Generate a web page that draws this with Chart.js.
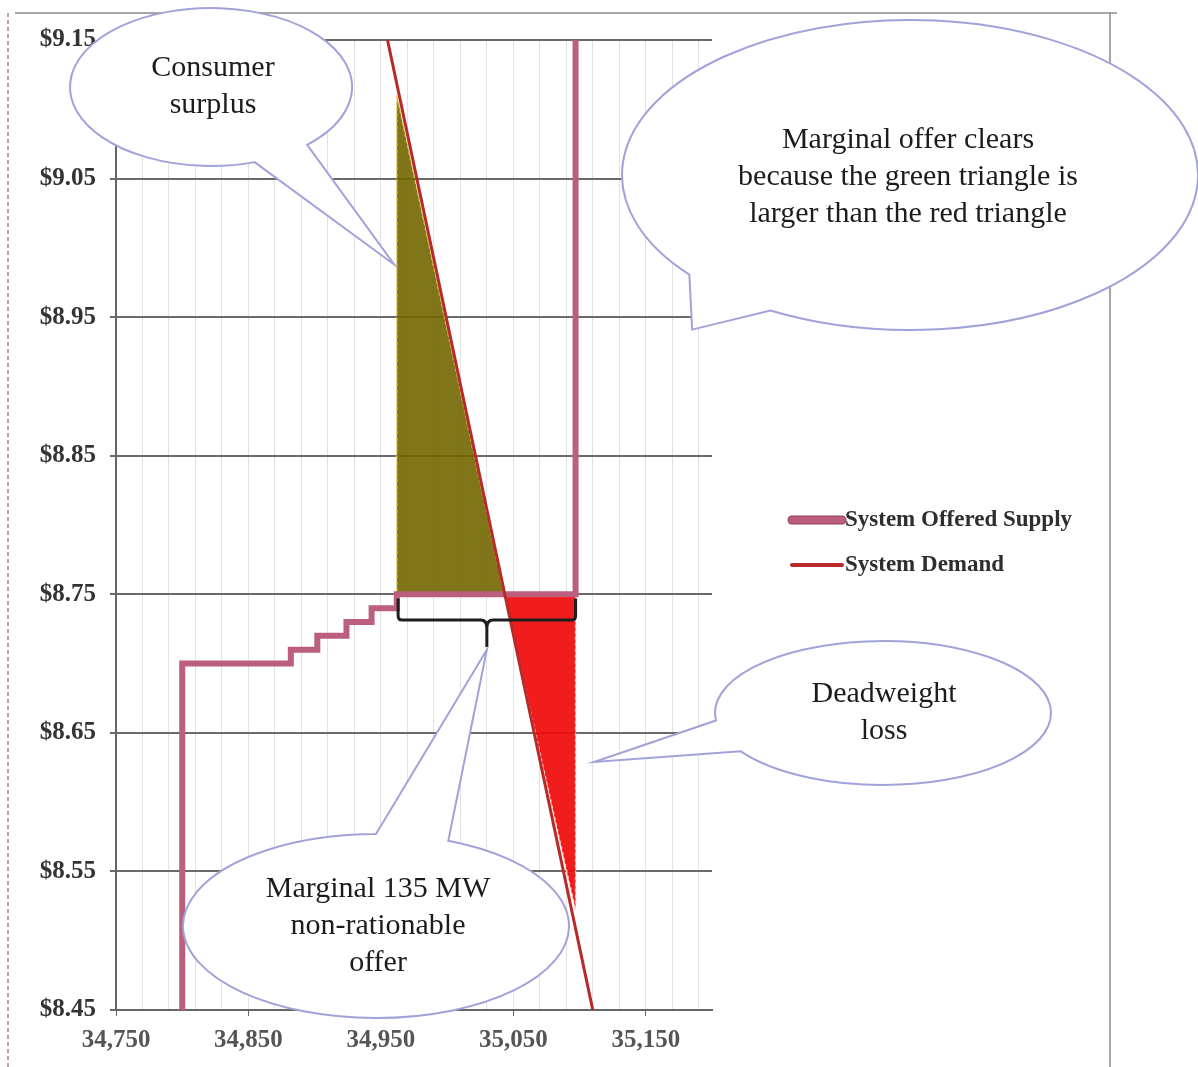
<!DOCTYPE html>
<html>
<head>
<meta charset="utf-8">
<script src="https://cdn.jsdelivr.net/npm/chart.js@4.4.1/dist/chart.umd.min.js"></script>
<style>
  html, body { margin: 0; padding: 0; background: #fff; }
</style>
</head>
<body>
<canvas id="chart" width="1198" height="1067"></canvas>
<script>
// offer stack, MW vs $/MWh
const supplyMW    = [34800, 34800, 34882, 34882, 34902, 34902, 34924, 34924, 34943, 34943, 34962, 34962, 35097, 35097];
const supplyPrice = [8.45, 8.70, 8.70, 8.71, 8.71, 8.72, 8.72, 8.73, 8.73, 8.74, 8.74, 8.75, 8.75, 9.15];

// demand curve
const demandMW    = [34955, 35110];
const demandPrice = [9.15, 8.45];

// shaded areas (closed polygons)
const surplusMW       = [34962, 34962, 35043, 34962];
const surplusPrice    = [9.11, 8.75, 8.75, 9.11];
const deadweightMW    = [35043, 35097, 35097, 35043];
const deadweightPrice = [8.75, 8.75, 8.522, 8.75];

// brace under the marginal offer
const braceMW    = [34963, 35030, 35097];
const bracePrice = [8.747, 8.7315, 8.712];

// axes
const xTickValues = [34750, 34850, 34950, 35050, 35150];
const xTickLabels = ["34,750", "34,850", "34,950", "35,050", "35,150"];
const yTickValues = [8.45, 8.55, 8.65, 8.75, 8.85, 8.95, 9.05, 9.15];
const yTickLabels = ["$8.45", "$8.55", "$8.65", "$8.75", "$8.85", "$8.95", "$9.05", "$9.15"];

const gridMW = [];
for (let v = 34750; v < 35200; v += 20) gridMW.push(v);

const toPts = (xs, ys) => xs.map((x, i) => ({ x: x, y: ys[i] }));

const SERIF = "'Liberation Serif', 'DejaVu Serif', serif";

// callouts: ellipse in pixels, tip in data units
const callouts = [
  { lines: ["Consumer", "surplus"], cx: 211, cy: 87, rx: 141, ry: 79, from: 47, to: 72, tipMW: 34960, tipPrice: 8.988 },
  { lines: ["Marginal offer clears", "because the green triangle is", "larger than the red triangle"],
    cx: 910, cy: 175, rx: 288, ry: 155, from: 119, to: 140, tipMW: 35185, tipPrice: 8.941, textX: 908, textY: 177 },
  { lines: ["Deadweight", "loss"], cx: 883, cy: 713, rx: 168, ry: 72, from: 148, to: 174, tipMW: 35111, tipPrice: 8.629, textX: 884, textY: 713 },
  { lines: ["Marginal 135 MW", "non-rationable", "offer"], cx: 376, cy: 926, rx: 193, ry: 92, from: -90, to: -68, tipMW: 35030, tipPrice: 8.71 },
];

const extras = {
  id: "extras",
  afterDatasetsDraw(chart) {
    const { ctx, scales: { x, y } } = chart;
    // brace
    ctx.save();
    ctx.strokeStyle = "#1e1e1e";
    ctx.lineWidth = 3;
    ctx.lineJoin = "round";
    const l = x.getPixelForValue(braceMW[0]), m = x.getPixelForValue(braceMW[1]), r = x.getPixelForValue(braceMW[2]);
    const t = y.getPixelForValue(bracePrice[0]), b = y.getPixelForValue(bracePrice[1]), tip = y.getPixelForValue(bracePrice[2]);
    ctx.beginPath();
    ctx.moveTo(l, t);
    ctx.lineTo(l, b - 4);
    ctx.quadraticCurveTo(l, b, l + 4, b);
    ctx.lineTo(m - 6, b);
    ctx.quadraticCurveTo(m, b, m, b + 8);
    ctx.lineTo(m, tip);
    ctx.moveTo(m, b + 8);
    ctx.quadraticCurveTo(m, b, m + 6, b);
    ctx.lineTo(r - 4, b);
    ctx.quadraticCurveTo(r, b, r, b - 4);
    ctx.lineTo(r, t);
    ctx.stroke();
    ctx.restore();
  },
  afterDraw(chart) {
    const { ctx, scales: { x, y } } = chart;
    ctx.save();

    // page frame
    ctx.strokeStyle = "#8a8a8a";
    ctx.lineWidth = 1.5;
    ctx.beginPath();
    ctx.moveTo(15, 13); ctx.lineTo(1117, 13);
    ctx.moveTo(1110, 13); ctx.lineTo(1110, 1067);
    ctx.stroke();
    ctx.setLineDash([4, 3]);
    ctx.strokeStyle = "#b08090";
    ctx.beginPath();
    ctx.moveTo(8, 13); ctx.lineTo(8, 1067);
    ctx.stroke();
    ctx.setLineDash([]);

    // callouts
    callouts.forEach(c => {
      const a1 = c.from * Math.PI / 180, a2 = c.to * Math.PI / 180;
      const tx = x.getPixelForValue(c.tipMW), ty = y.getPixelForValue(c.tipPrice);
      ctx.beginPath();
      ctx.ellipse(c.cx, c.cy, c.rx, c.ry, 0, a2, a1 + 2 * Math.PI, false);
      ctx.lineTo(tx, ty);
      ctx.closePath();
      ctx.fillStyle = "#ffffff";
      ctx.fill();
      ctx.strokeStyle = "#a2a2da";
      ctx.lineWidth = 2;
      ctx.stroke();

      ctx.fillStyle = "#1c1c1c";
      ctx.font = "30px " + SERIF;
      ctx.textAlign = "center";
      ctx.textBaseline = "middle";
      const lh = 37;
      const cx = c.textX || c.cx + 2, cy = c.textY || c.cy;
      const y0 = cy - (c.lines.length - 1) * lh / 2;
      c.lines.forEach((s, i) => ctx.fillText(s, cx, y0 + i * lh));
    });

    // legend
    const legend = [
      { label: "System Offered Supply", ds: chart.data.datasets[1], y: 520, w: 7 },
      { label: "System Demand", ds: chart.data.datasets[0], y: 565, w: 4 },
    ];
    legend.forEach(it => {
      if (it.w > 5) {
        ctx.strokeStyle = "#8e3f5c";
        ctx.lineWidth = it.w + 2;
        ctx.lineCap = "round";
        ctx.beginPath(); ctx.moveTo(792, it.y); ctx.lineTo(842, it.y); ctx.stroke();
      }
      ctx.strokeStyle = it.ds.borderColor;
      ctx.lineWidth = it.w;
      ctx.lineCap = "round";
      ctx.beginPath(); ctx.moveTo(792, it.y); ctx.lineTo(842, it.y); ctx.stroke();
      ctx.fillStyle = "#2e2e2e";
      ctx.font = "bold 23px " + SERIF;
      ctx.textAlign = "left";
      ctx.textBaseline = "middle";
      ctx.fillText(it.label, 845, it.y);
    });
    ctx.restore();
  }
};

const data = {
  datasets: [
    {
      label: "System Demand",
      data: toPts(demandMW, demandPrice),
      showLine: true,
      pointRadius: 0,
      borderColor: "rgb(184, 42, 42)",
      borderWidth: 3,
      fill: false,
      order: 0,
    },
    {
      label: "System Offered Supply",
      data: toPts(supplyMW, supplyPrice),
      showLine: true,
      pointRadius: 0,
      borderColor: "rgb(188, 94, 125)",
      borderWidth: 6,
      borderJoinStyle: "miter",
      fill: false,
      order: 1,
    },
    {
      label: "Consumer surplus",
      data: toPts(surplusMW, surplusPrice),
      showLine: true,
      pointRadius: 0,
      borderColor: "rgba(235, 205, 70, 0.9)",
      borderWidth: 1.5,
      borderDash: [3, 3],
      backgroundColor: "rgba(114, 103, 0, 0.9)",
      fill: "shape",
      order: 2,
    },
    {
      label: "Deadweight loss",
      data: toPts(deadweightMW, deadweightPrice),
      showLine: true,
      pointRadius: 0,
      borderColor: "rgba(255, 215, 200, 0.9)",
      borderWidth: 1.5,
      borderDash: [3, 3],
      backgroundColor: "rgba(240, 10, 10, 0.92)",
      fill: "shape",
      order: 3,
    },
  ],
};

const options = {
  responsive: false,
  animation: false,
  layout: { padding: { left: 0, top: 40, right: 486, bottom: 0 } },
  plugins: { legend: { display: false }, tooltip: { enabled: false } },
  scales: {
    x: {
      type: "linear",
      min: 34750,
      max: 35200,
      afterBuildTicks: s => { s.ticks = gridMW.map(v => ({ value: v })); },
      afterFit: s => { s.height = 57; },
      ticks: {
        autoSkip: false,
        maxRotation: 0,
        padding: 10,
        color: "#555",
        font: { family: SERIF, size: 25, weight: "bold" },
        callback: v => { const i = xTickValues.indexOf(v); return i >= 0 ? xTickLabels[i] : ""; },
      },
      grid: {
        color: "#e2e2e2",
        lineWidth: 1,
        tickLength: 6,
        tickColor: c => (xTickValues.includes(c.tick.value) ? "#666" : "rgba(0,0,0,0)"),
      },
      border: { color: "#666", width: 2 },
    },
    y: {
      type: "linear",
      min: 8.45,
      max: 9.15,
      afterBuildTicks: s => { s.ticks = yTickValues.map(v => ({ value: v })); },
      afterFit: s => { s.width = 116; },
      ticks: {
        padding: 14,
        color: "#333",
        font: { family: SERIF, size: 25, weight: "bold" },
        callback: (v, i) => yTickLabels[i],
      },
      grid: { color: "#6a6a6a", lineWidth: 2, tickLength: 6 },
      border: { color: "#666", width: 2 },
    },
  },
};

new Chart(document.getElementById("chart"), {
  type: "scatter",
  data: data,
  options: options,
  plugins: [extras],
});
</script>
</body>
</html>
